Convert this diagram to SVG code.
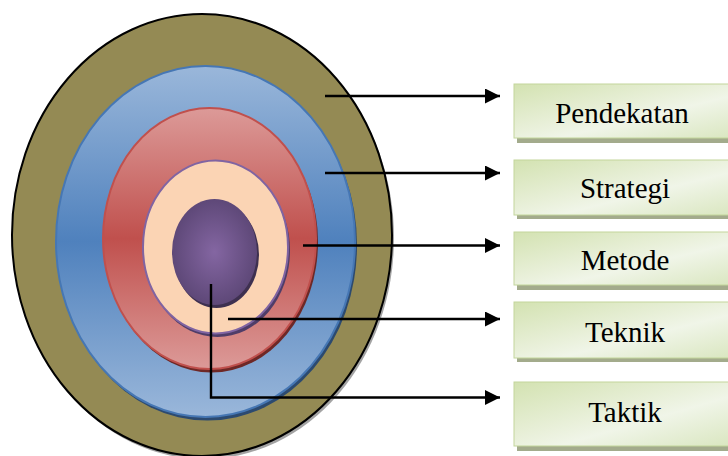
<svg xmlns="http://www.w3.org/2000/svg" width="728" height="456" viewBox="0 0 728 456">
<style>
.lbl{font-size:29px;fill:#000;text-anchor:middle}
.box{fill:url(#gBox);stroke:#c3d69b;stroke-width:1}
.boxsh{fill:#a3ab8c}
.conn{fill:none;stroke:#000;stroke-width:2.4}
</style>
<defs>
<linearGradient id="gBox" x1="0" y1="0" x2="1" y2="1">
<stop offset="0" stop-color="#d3e2b1"/>
<stop offset="0.45" stop-color="#e9f0da"/>
<stop offset="0.6" stop-color="#f0f5e8"/>
<stop offset="1" stop-color="#d9e6bf"/>
</linearGradient>
<linearGradient id="gBlue" x1="0" y1="0" x2="0" y2="1">
<stop offset="0" stop-color="#9ab7da"/>
<stop offset="0.5" stop-color="#4f81bd"/>
<stop offset="1" stop-color="#9ab7da"/>
</linearGradient>
<linearGradient id="gRed" x1="0" y1="0" x2="0" y2="1">
<stop offset="0" stop-color="#dc9a98"/>
<stop offset="0.5" stop-color="#c0504d"/>
<stop offset="1" stop-color="#dc9a98"/>
</linearGradient>
<radialGradient id="gPurple" cx="0.5" cy="0.5" r="0.5">
<stop offset="0" stop-color="#8466a2"/>
<stop offset="1" stop-color="#5e4878"/>
</radialGradient>
<marker id="arr" markerWidth="16" markerHeight="15" refX="15" refY="7.5" orient="auto" markerUnits="userSpaceOnUse">
<path d="M0,0 L15,7.5 L0,15 Z" fill="#000"/>
</marker>
</defs>

<g id="rings">
<g id="ring-pendekatan">
<ellipse cx="204" cy="238" rx="190" ry="221" fill="#8c8c8c" opacity="0.8"/>
<ellipse cx="202" cy="235" rx="190" ry="221" fill="#948a54" stroke="#000" stroke-width="2"/>
</g>
<g id="ring-strategi">
<ellipse cx="207.5" cy="245" rx="149.5" ry="175.5" fill="#2c4a70"/>
<ellipse cx="205.5" cy="241.5" rx="149.5" ry="175.5" fill="url(#gBlue)" stroke="#4677b4" stroke-width="2"/>
</g>
<g id="ring-metode">
<ellipse cx="211.5" cy="242" rx="106.5" ry="130.5" fill="#6e2826"/>
<ellipse cx="209.5" cy="238.5" rx="106.5" ry="130.5" fill="url(#gRed)" stroke="#c0504d" stroke-width="2"/>
</g>
<g id="ring-teknik">
<ellipse cx="217.5" cy="250.5" rx="72.5" ry="86.5" fill="#4f3d68"/>
<ellipse cx="215.5" cy="247" rx="72.5" ry="86.5" fill="#fbd4b4" stroke="#8064a2" stroke-width="2"/>
</g>
<g id="ring-taktik">
<ellipse cx="216.5" cy="255" rx="42.5" ry="53" fill="#3e3050"/>
<ellipse cx="214.5" cy="252" rx="42.5" ry="53" fill="url(#gPurple)"/>
</g>
</g>

<g id="connectors">
<path class="conn" d="M325,96 H500" marker-end="url(#arr)"/>
<path class="conn" d="M325,173 H500" marker-end="url(#arr)"/>
<path class="conn" d="M303,245.5 H500" marker-end="url(#arr)"/>
<path class="conn" d="M228,319 H500" marker-end="url(#arr)"/>
<path class="conn" d="M211,284 V397.5 H500" marker-end="url(#arr)"/>
</g>

<g font-family="'Liberation Serif', 'Times New Roman', 'DejaVu Serif', serif">
<g id="node-pendekatan">
<rect class="boxsh" x="517" y="88" width="222" height="55"/>
<rect class="box" x="514" y="84" width="222" height="54"/>
<text class="lbl" x="622" y="123">Pendekatan</text>
</g>
<g id="node-strategi">
<rect class="boxsh" x="517" y="164" width="222" height="55"/>
<rect class="box" x="514" y="160" width="222" height="55"/>
<text class="lbl" x="625" y="198">Strategi</text>
</g>
<g id="node-metode">
<rect class="boxsh" x="517" y="236" width="222" height="54"/>
<rect class="box" x="514" y="232" width="222" height="53"/>
<text class="lbl" x="625" y="270">Metode</text>
</g>
<g id="node-teknik">
<rect class="boxsh" x="517" y="306" width="222" height="56"/>
<rect class="box" x="514" y="302" width="222" height="56"/>
<text class="lbl" x="625" y="341.5">Teknik</text>
</g>
<g id="node-taktik">
<rect class="boxsh" x="517" y="386" width="222" height="65"/>
<rect class="box" x="514" y="382" width="222" height="64"/>
<text class="lbl" x="625" y="421.5">Taktik</text>
</g>
</g>
</svg>
